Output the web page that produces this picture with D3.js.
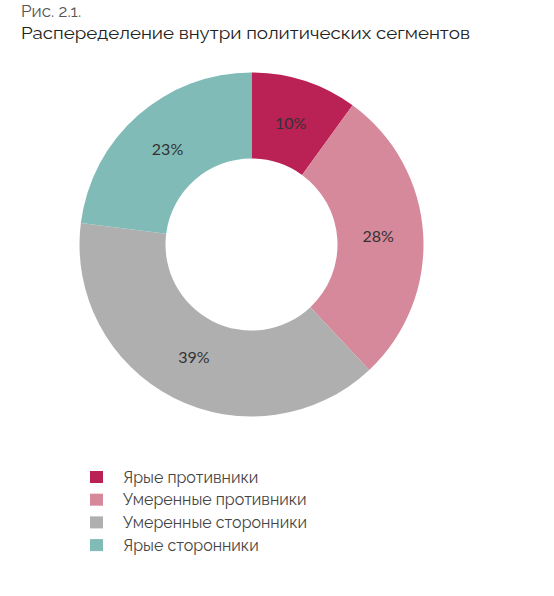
<!DOCTYPE html>
<html>
<head>
<meta charset="utf-8">
<script src="https://cdn.jsdelivr.net/npm/d3@7"></script>
<style>
  html, body { margin: 0; padding: 0; background: #fff; }
  svg { display: block; }
</style>
</head>
<body>
<svg id="chart" width="554" height="596"></svg>
<script>
const figureLabel = "Рис. 2.1.";
const titleText = "Распеределение внутри политических сегментов";
const categories = ["Ярые противники", "Умеренные противники", "Умеренные сторонники", "Ярые сторонники"];
const values = [10, 28, 39, 23];
const colors = ["#BA2154", "#D6899B", "#AFAFB0", "#80BBB7"];

const svg = d3.select("#chart");
const font = "Raleway, Lato, 'Open Sans', sans-serif";

svg.append("text").attr("x", 21).attr("y", 17)
  .attr("font-family", font).attr("font-size", 17).attr("fill", "#555")
  .text(figureLabel);
svg.append("text").attr("x", 21).attr("y", 39)
  .attr("font-family", font).attr("font-size", 17).attr("fill", "#222")
  .attr("textLength", 449).attr("lengthAdjust", "spacingAndGlyphs")
  .text(titleText);

const cx = 251.5, cy = 244.5, outerR = 172, innerR = 86;
const data = categories.map((c, i) => ({ name: c, value: values[i] }));
const color = d3.scaleOrdinal().domain(categories).range(colors);
const pie = d3.pie().value(d => d.value).sort(null);
const arc = d3.arc().innerRadius(innerR).outerRadius(outerR);
const labelArc = d3.arc().innerRadius(innerR + 41).outerRadius(innerR + 41);

const g = svg.append("g").attr("transform", `translate(${cx},${cy})`);
const arcs = pie(data);
g.selectAll("path").data(arcs).join("path")
  .attr("d", arc).attr("fill", d => color(d.data.name));
g.selectAll("text.lbl").data(arcs).join("text").attr("class", "lbl")
  .attr("transform", d => `translate(${labelArc.centroid(d)})`)
  .attr("text-anchor", "middle").attr("dy", "0.35em")
  .attr("font-family", "Lato, sans-serif").attr("font-size", 16).attr("fill", "#333")
  .text(d => d.data.value + "%");

const legend = svg.append("g").attr("transform", "translate(90,471)");
const row = legend.selectAll("g").data(categories).join("g")
  .attr("transform", (d, i) => `translate(0,${i * 22.7})`);
row.append("rect").attr("width", 13).attr("height", 12).attr("fill", d => color(d));
row.append("text").attr("x", 33).attr("y", 6).attr("dy", "0.35em")
  .attr("font-family", font).attr("font-size", 16).attr("fill", "#444")
  .text(d => d);
</script>
</body>
</html>
